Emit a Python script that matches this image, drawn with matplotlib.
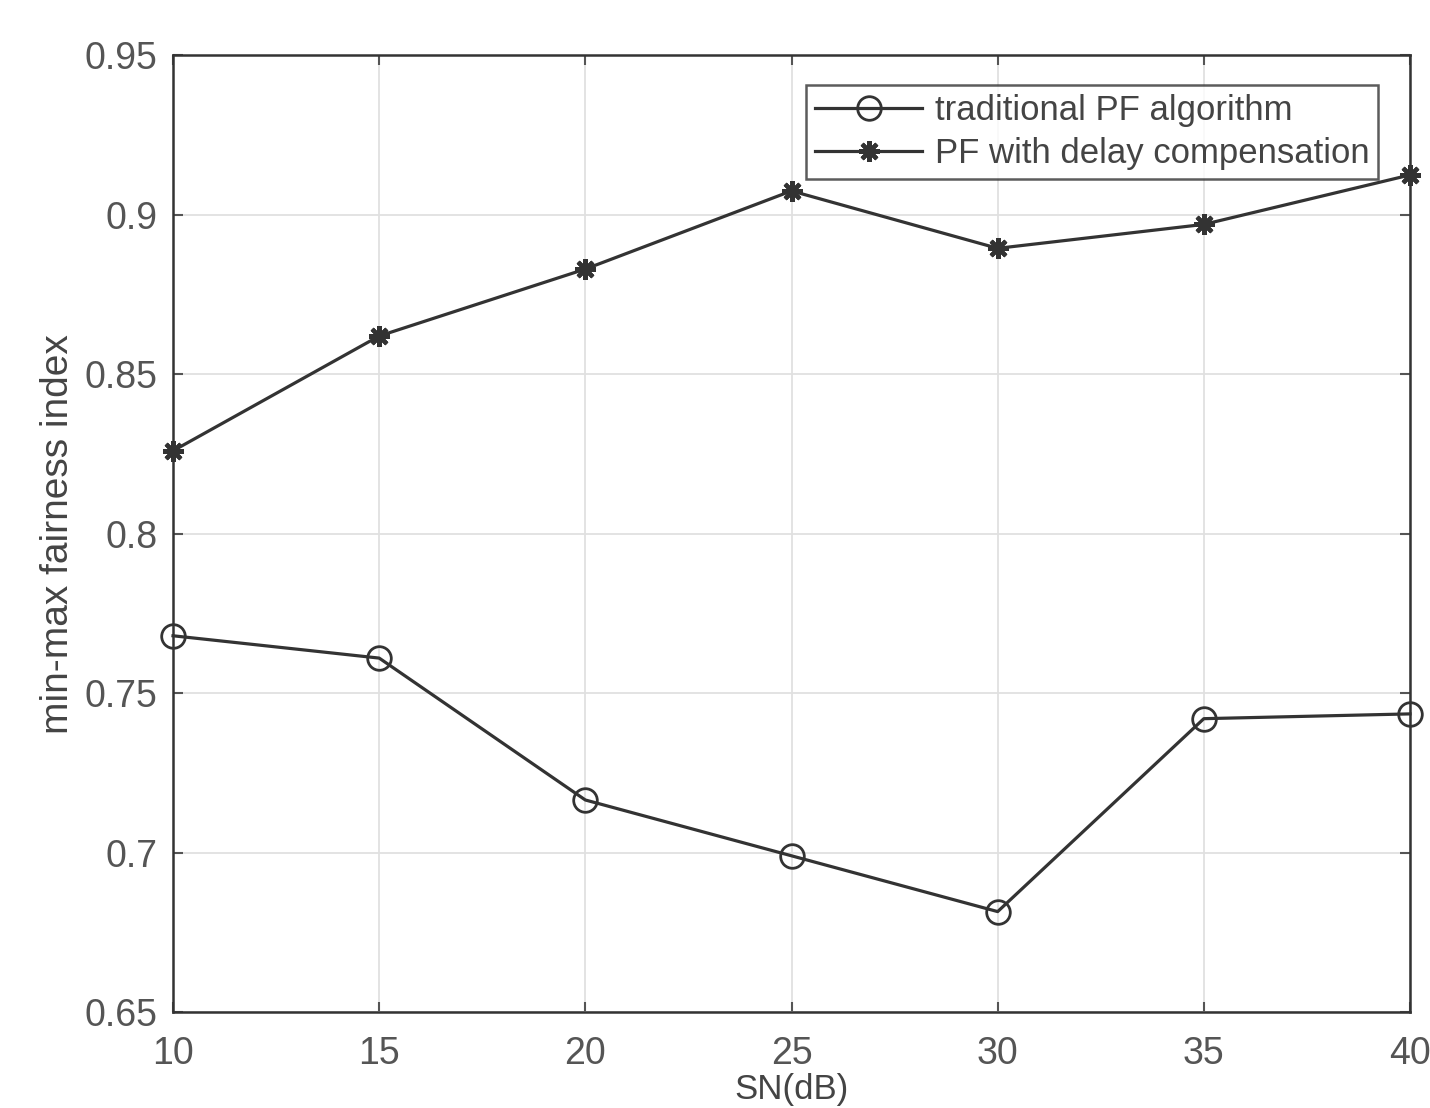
import numpy as np
import matplotlib.pyplot as plt

plt.rcParams['font.family'] = ['Liberation Sans', 'DejaVu Sans']

snr = [10, 15, 20, 25, 30, 35, 40]
pf_trad = [0.768, 0.761, 0.7165, 0.699, 0.6815, 0.742, 0.7435]
pf_delay = [0.826, 0.862, 0.883, 0.9075, 0.8895, 0.897, 0.9125]
labels = ['traditional PF algorithm', 'PF with delay compensation']

fig = plt.figure(figsize=(14.3, 11.08), dpi=100)
ax = fig.add_axes([0.121, 0.0866, 0.865, 0.8634])

c = '#333333'
ax.plot(snr, pf_trad, color=c, lw=2.3, marker='o', ms=17, mfc='none', mew=2, label=labels[0], clip_on=False)
ax.plot(snr, pf_delay, color=c, lw=2.3, marker=(8, 2, 0), ms=15, mec=c, mew=3, label=labels[1], clip_on=False)

ax.set_xlim(10, 40)
ax.set_ylim(0.65, 0.95)
ax.set_xticks(np.arange(10, 41, 5))
ax.set_yticks([0.65, 0.7, 0.75, 0.8, 0.85, 0.9, 0.95])
ax.set_yticklabels(['0.65', '0.7', '0.75', '0.8', '0.85', '0.9', '0.95'])
ax.grid(True, color='#e0e0e0', lw=1.3)
ax.tick_params(labelsize=27, colors='#555555', length=7, width=1.5, direction='in', top=True, right=True)
ax.tick_params(axis='x', pad=17)
ax.tick_params(axis='y', pad=11)
for s in ax.spines.values():
    s.set_color('#333333')
    s.set_linewidth(1.8)

ax.set_xlabel('SN(dB)', fontsize=25, color='#444444', labelpad=1)
ax.set_ylabel('min-max fairness index', fontsize=28, color='#444444', labelpad=6)

leg = ax.legend(loc='upper right', bbox_to_anchor=(0.974, 0.969), fontsize=25, frameon=True,
                fancybox=False, edgecolor='#333333', handlelength=3.1, borderpad=0.25,
                labelspacing=0.3, handletextpad=0.35, borderaxespad=0)
leg.get_frame().set_linewidth(1.8)
for t in leg.get_texts():
    t.set_color('#444444')

fig.savefig('out.png', dpi=100)
